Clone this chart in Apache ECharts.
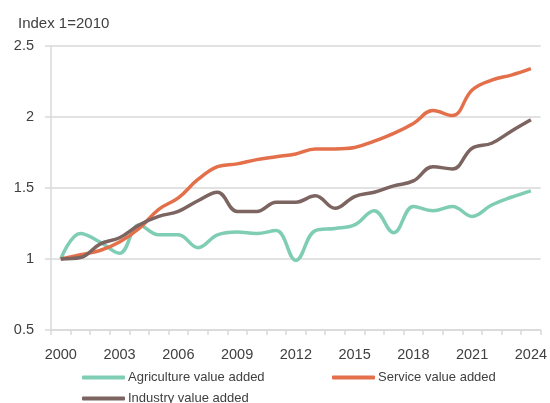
<!DOCTYPE html>
<html>
<head>
<meta charset="utf-8">
<script src="https://cdn.jsdelivr.net/npm/echarts@6/dist/echarts.min.js"></script>
<style>
  html, body { margin: 0; padding: 0; background: #fff; }
  #chart { width: 550px; height: 403px; }
</style>
</head>
<body>
<div id="chart"></div>
<script>
// Value added indices, 2010 = 1
const years = ['2000','2001','2002','2003','2004','2005','2006','2007','2008','2009','2010','2011','2012',
  '2013','2014','2015','2016','2017','2018','2019','2020','2021','2022','2023','2024'];

const agriculture = [1.00, 1.18, 1.12, 1.04, 1.24, 1.17, 1.17, 1.08, 1.17, 1.19, 1.18, 1.20, 0.99,
  1.20, 1.215, 1.24, 1.34, 1.185, 1.37, 1.34, 1.37, 1.30, 1.38, 1.435, 1.48];

const service = [1.00, 1.03, 1.06, 1.12, 1.215, 1.35, 1.43, 1.56, 1.65, 1.67, 1.70, 1.72, 1.74,
  1.775, 1.775, 1.785, 1.83, 1.885, 1.955, 2.045, 2.01, 2.19, 2.26, 2.295, 2.34];

const industry = [1.00, 1.01, 1.105, 1.15, 1.24, 1.30, 1.335, 1.41, 1.47, 1.335, 1.335, 1.40, 1.40,
  1.445, 1.357, 1.44, 1.47, 1.515, 1.55, 1.65, 1.634, 1.78, 1.815, 1.90, 1.98];

const names = ['Agriculture value added', 'Service value added', 'Industry value added'];
const colors = ['#7fcdb4', '#e3704b', '#7c6460'];

const font = 'Liberation Sans, Arial, sans-serif';
const gridColor = '#d9d9d9';
const textColor = '#404040';

const chart = echarts.init(document.getElementById('chart'), null, { renderer: 'canvas' });

function legendAt(name, left, top) {
  return {
    data: [name],
    left: left, top: top,
    orient: 'horizontal',
    icon: 'roundRect',
    itemWidth: 43, itemHeight: 4, itemGap: 4,
    padding: 0,
    selectedMode: false,
    textStyle: { color: textColor, fontFamily: font, fontSize: 13, padding: [0, 0, 0, -2] }
  };
}

const series = [agriculture, service, industry].map((d, i) => ({
  name: names[i],
  type: 'line',
  data: d,
  smooth: 0.4,
  symbol: 'none',
  lineStyle: { width: 3.5, color: colors[i] },
  itemStyle: { color: colors[i] },
  z: i === 2 ? 4 : 3
}));

chart.setOption({
  animation: false,
  backgroundColor: '#ffffff',
  title: {
    text: 'Index 1=2010',
    left: 13, top: 11,
    textStyle: { color: textColor, fontFamily: font, fontSize: 15, fontWeight: 'normal' }
  },
  legend: [
    legendAt(names[0], 82, 371),
    legendAt(names[1], 332, 371),
    legendAt(names[2], 82, 392)
  ],
  grid: { left: 51, right: 9, top: 46, bottom: 73, containLabel: false },
  xAxis: {
    type: 'category',
    data: years,
    boundaryGap: true,
    axisLine: { lineStyle: { color: gridColor, width: 1.5 } },
    axisTick: { show: true, interval: 0, length: 5, lineStyle: { color: gridColor, width: 1.5 } },
    axisLabel: { interval: 2, color: textColor, fontFamily: font, fontSize: 14.5, margin: 17 },
    splitLine: { show: false }
  },
  yAxis: {
    type: 'value',
    min: 0.5, max: 2.5, interval: 0.5,
    axisLine: { show: true, lineStyle: { color: gridColor, width: 1.5 } },
    axisTick: { show: true, length: 6, lineStyle: { color: gridColor, width: 1.5 } },
    axisLabel: { color: textColor, fontFamily: font, fontSize: 14.5, margin: 17 },
    splitLine: { show: true, lineStyle: { color: gridColor, width: 1.5 } }
  },
  series: series
});
</script>
</body>
</html>
